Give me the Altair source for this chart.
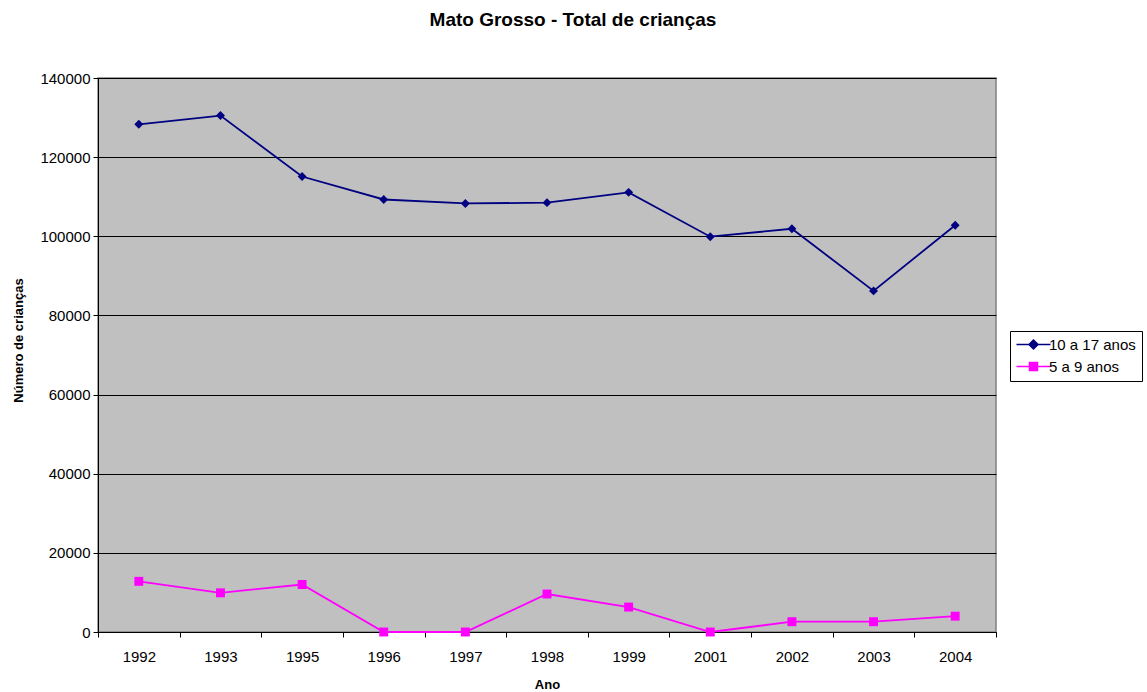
import altair as alt
import pandas as pd

years = ["1992", "1993", "1995", "1996", "1997", "1998", "1999", "2001", "2002", "2003", "2004"]
series_names = ["10 a 17 anos", "5 a 9 anos"]
vals_10_17 = [128300, 130500, 115100, 109300, 108300, 108500, 111100, 99900, 101900, 86200, 102800]
vals_5_9 = [12800, 9900, 12000, 0, 0, 9600, 6300, 0, 2600, 2600, 4000]
y_ticks = [0, 20000, 40000, 60000, 80000, 100000, 120000, 140000]
colors = ["#000080", "#FF00FF"]

rows = []
for y, v in zip(years, vals_10_17):
    rows.append({"Ano": y, "valor": v, "serie": series_names[0]})
for y, v in zip(years, vals_5_9):
    rows.append({"Ano": y, "valor": v, "serie": series_names[1]})
df = pd.DataFrame(rows)

FONT = "Liberation Sans"

diamond_path = "M-3.4,0H3.4M0,-0.9L0.9,0L0,0.9L-0.9,0Z"
square_path = "M-3.4,0H3.4M-0.8,-0.8H0.8V0.8H-0.8Z"

legend = alt.Legend(
    title=None,
    orient="none",
    legendX=912,
    legendY=253,
    fillColor="white",
    strokeColor="black",
    padding=6,
    cornerRadius=0,
    labelFont=FONT,
    labelFontSize=15,
    labelColor="black",
    labelLimit=300,
    symbolOffset=10,
    labelOffset=8,
    rowPadding=6,
    symbolStrokeWidth=1.5,
    symbolOpacity=1,
    symbolSize=100,
)

x_enc = alt.X(
    "Ano:O",
    sort=years,
    scale=alt.Scale(type="band", paddingInner=0, paddingOuter=0),
    axis=alt.Axis(
        title="Ano",
        labelAngle=0,
        tickBand="extent",
        tickSize=5,
        tickColor="black",
        domainColor="black",
        labelFont=FONT,
        labelFontSize=15,
        labelColor="black",
        labelPadding=12,
        titleFont=FONT,
        titleFontSize=13,
        titleFontWeight="bold",
        titleColor="black",
        titlePadding=14,
        grid=False,
    ),
)
y_enc = alt.Y(
    "valor:Q",
    scale=alt.Scale(domain=[0, 140000], nice=False),
    axis=alt.Axis(
        title="Número de crianças",
        values=y_ticks,
        format="d",
        tickSize=5,
        tickColor="black",
        domainColor="black",
        gridColor="black",
        gridWidth=1,
        labelFont=FONT,
        labelFontSize=15,
        labelColor="black",
        labelPadding=3,
        titleFont=FONT,
        titleFontSize=13,
        titleFontWeight="bold",
        titleColor="black",
        titleX=-80,
        titleY=262,
        titleBaseline="middle",
        titleAlign="center",
        titleAngle=-90,
    ),
)
is_first = alt.datum.serie == series_names[0]
color_val = alt.condition(is_first, alt.value(colors[0]), alt.value(colors[1]))

base = alt.Chart(df)
lines = base.mark_line(strokeWidth=1.8).encode(x=x_enc, y=y_enc, detail="serie:N", color=color_val)
points = base.mark_point(filled=True, size=80, opacity=1).encode(
    x=x_enc,
    y=y_enc,
    color=color_val,
    shape=alt.condition(is_first, alt.value("diamond"), alt.value("square")),
)
legend_layer = base.transform_filter("false").mark_point(filled=True, size=100, strokeWidth=1.5).encode(
    x=x_enc,
    y=y_enc,
    fill=alt.Fill("serie:N", scale=alt.Scale(domain=series_names, range=colors), legend=legend),
    stroke=alt.Stroke("serie:N", scale=alt.Scale(domain=series_names, range=colors), legend=legend),
    shape=alt.Shape("serie:N", scale=alt.Scale(domain=series_names, range=[diamond_path, square_path]), legend=legend),
)

chart = (
    alt.layer(lines, points, legend_layer)
    .properties(
        width=898,
        height=554,
        title=alt.TitleParams(
            text="Mato Grosso - Total de crianças",
            font=FONT,
            fontSize=19,
            fontWeight="bold",
            color="black",
            anchor="middle",
            frame="group",
            dx=26,
            offset=41,
        ),
        autosize=alt.AutoSizeParams(type="none"),
        padding={"left": 98, "top": 78, "right": 151, "bottom": 60},
        background="white",
    )
    .configure_view(fill="#C0C0C0", stroke="#808080", strokeWidth=1.5)
)

chart.save("out.html", embed_options={"renderer": "svg", "actions": False})
